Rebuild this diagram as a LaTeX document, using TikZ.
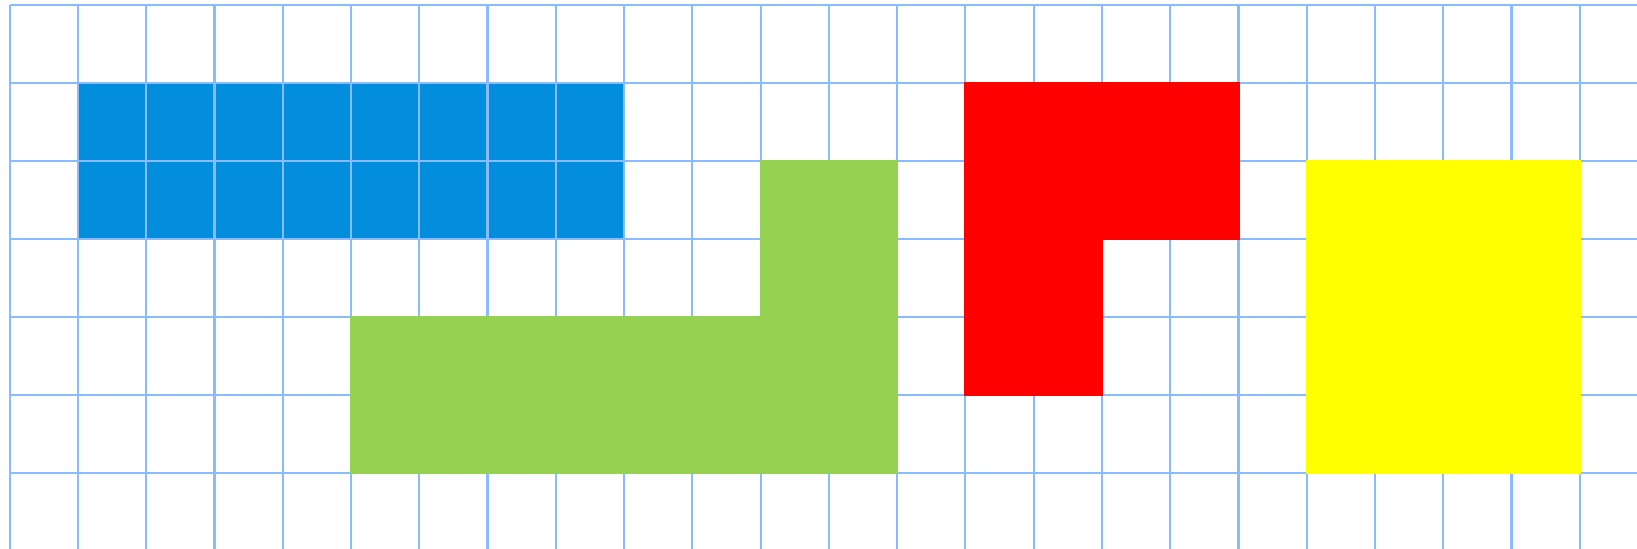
\documentclass[tikz,border=0pt]{standalone}
\usepackage{tikz}
\usetikzlibrary{positioning}
\usepackage{xcolor}
\definecolor{gridblue}{RGB}{136, 187, 255}
\definecolor{tileblue}{RGB}{3, 141, 221}
\definecolor{tilegreen}{RGB}{149, 210, 81}
\definecolor{tilered}{RGB}{255, 0, 0}
\definecolor{tileyellow}{RGB}{255, 255, 0}

\begin{document}
\begin{tikzpicture}[
  x=1cm, y=-1.141cm,
  gridline/.style={draw=gridblue, line width=0.9pt},
  tile/.style={line width=0.9pt, line join=miter}
]
  \useasboundingbox (-0.142,-0.068) rectangle (23.838,6.98);

  % blue bar sits under the grid
  \filldraw[tile, fill=tileblue, draw=tileblue] (1,1) rectangle (9,3);

  \foreach \i in {0,...,23}
    \draw[gridline] (\i,0) -- (\i,6.98);
  \foreach \j in {0,...,6}
    \draw[gridline] (0,\j) -- (23.838,\j);

  % the other pieces cover the grid
  \filldraw[tile, fill=tilegreen, draw=tilegreen]
    (5,4) -- (11,4) -- (11,2) -- (13,2) -- (13,6) -- (5,6) -- cycle;
  \filldraw[tile, fill=tilered, draw=tilered]
    (14,1) -- (18,1) -- (18,3) -- (16,3) -- (16,5) -- (14,5) -- cycle;
  \filldraw[tile, fill=tileyellow, draw=tileyellow] (19,2) rectangle (23,6);
\end{tikzpicture}
\end{document}
